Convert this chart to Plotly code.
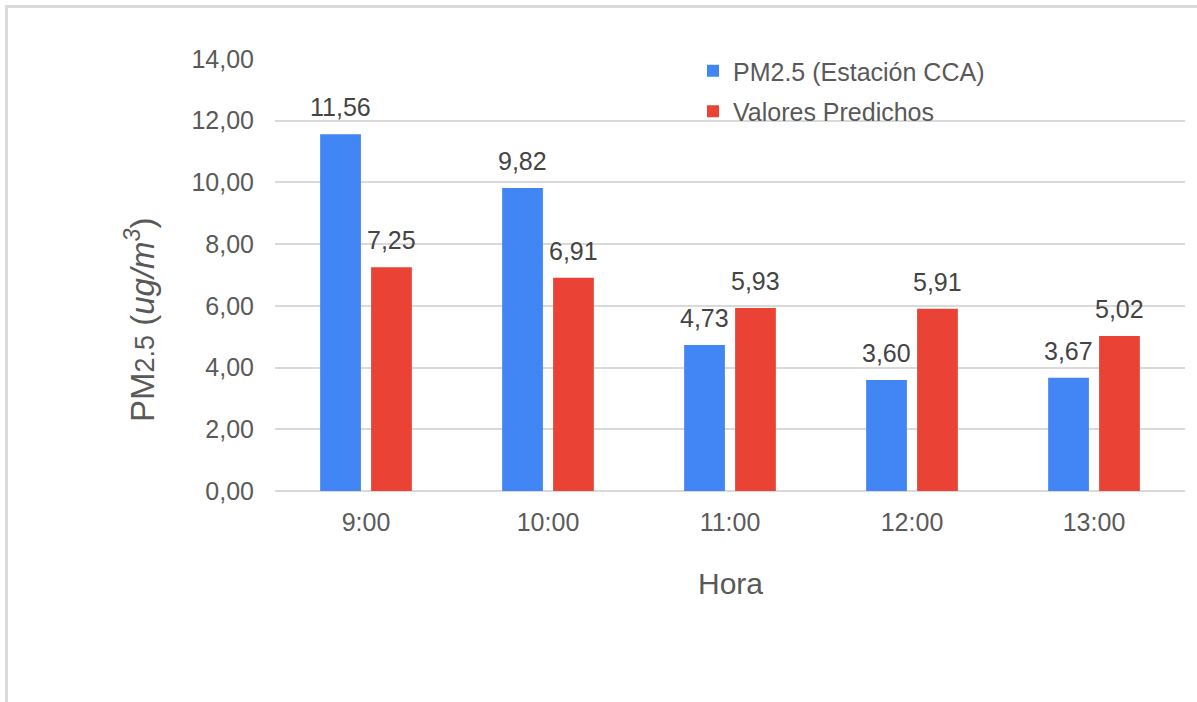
import plotly.graph_objects as go

# Hourly PM2.5: station measurements vs. model predictions
horas = ["9:00", "10:00", "11:00", "12:00", "13:00"]
pm25_estacion = [11.56, 9.82, 4.73, 3.60, 3.67]
valores_predichos = [7.25, 6.91, 5.93, 5.91, 5.02]
y_ticks = [0, 2, 4, 6, 8, 10, 12, 14]

serie_nombres = ["PM2.5 (Estación CCA)", "Valores Predichos"]
serie_colores = ["#4285F4", "#EA4335"]

# Canvas and plot-area geometry (pixels)
W, H = 1197, 702
M_L, M_R, M_T, M_B = 275, 12, 59, 211
PLOT_W = W - M_L - M_R
PLOT_H = H - M_T - M_B
BARGAP = 0.44
BARGROUPGAP = 0.2

FONT = "Liberation Sans, Arial, sans-serif"
TICK_COLOR = "#5a5a5a"
LABEL_COLOR = "#444444"
GRID_COLOR = "#d9d9d9"


def px_x(px):
    return (px - M_L) / PLOT_W


def px_y(py):
    return (H - M_B - py) / PLOT_H


def fmt(v):
    return f"{v:.2f}".replace(".", ",")


fig = go.Figure()
series = [pm25_estacion, valores_predichos]
for i, (vals, name, color) in enumerate(zip(series, serie_nombres, serie_colores)):
    fig.add_trace(go.Bar(
        x=horas, y=vals, name=name, marker_color=color,
        marker_line_width=0, legendgroup=f"g{i}",
    ))

# Value labels above each bar, shifted to the bar's slot within its group
band_px = PLOT_W / len(horas)
slot_px = band_px * (1 - BARGAP) / 2
annotations = []
for i, vals in enumerate(series):
    shift = (i - 0.5) * slot_px
    for h, v in zip(horas, vals):
        annotations.append(dict(
            x=h, y=v, xref="x", yref="y", text=fmt(v), showarrow=False,
            xanchor="center", yanchor="middle", xshift=shift, yshift=27,
            font=dict(family=FONT, size=25, color=LABEL_COLOR),
        ))

# Axis titles
annotations.append(dict(
    x=px_x(730), y=px_y(583), xref="paper", yref="paper", showarrow=False,
    text="Hora", xanchor="center", yanchor="middle",
    font=dict(family=FONT, size=30, color="#595959"),
))
annotations.append(dict(
    x=px_x(140), y=px_y(320), xref="paper", yref="paper", showarrow=False,
    text="PM<span style='font-size:27px'>2.5</span> (<i>ug/m<sup>3</sup></i>)",
    textangle=-90, xanchor="center", yanchor="middle",
    font=dict(family=FONT, size=33, color="#595959"),
))

# Outer frame: top and left edges only
border = dict(color="#dadada", width=3)
shapes = [
    dict(type="line", xref="paper", yref="paper",
         x0=px_x(5), x1=px_x(W), y0=px_y(6.5), y1=px_y(6.5), line=border),
    dict(type="line", xref="paper", yref="paper",
         x0=px_x(6.5), x1=px_x(6.5), y0=px_y(5), y1=px_y(H), line=border),
]

fig.update_layout(
    width=W, height=H,
    margin=dict(l=M_L, r=M_R, t=M_T, b=M_B, pad=0),
    paper_bgcolor="white", plot_bgcolor="white",
    barmode="group", bargap=BARGAP, bargroupgap=BARGROUPGAP,
    separators=",.",
    font=dict(family=FONT, color=TICK_COLOR),
    showlegend=True,
    legend=dict(
        x=px_x(693), y=px_y(48), xanchor="left", yanchor="top",
        bgcolor="rgba(0,0,0,0)", borderwidth=0,
        font=dict(family=FONT, size=25, color="#595959"),
        traceorder="grouped", tracegroupgap=5,
    ),
    annotations=annotations,
    shapes=shapes,
)

fig.update_xaxes(
    type="category", showgrid=False, showline=False, ticks="",
    tickfont=dict(family=FONT, size=25, color=TICK_COLOR),
    ticklabelstandoff=14,
)
fig.update_yaxes(
    range=[0, 14], tickvals=y_ticks, tickformat=".2f",
    showgrid=True, gridcolor=GRID_COLOR, gridwidth=2,
    zeroline=True, zerolinecolor=GRID_COLOR, zerolinewidth=2,
    showline=False, ticks="",
    tickfont=dict(family=FONT, size=25, color=TICK_COLOR),
    ticklabelstandoff=20,
)

fig.write_html("out.html")
